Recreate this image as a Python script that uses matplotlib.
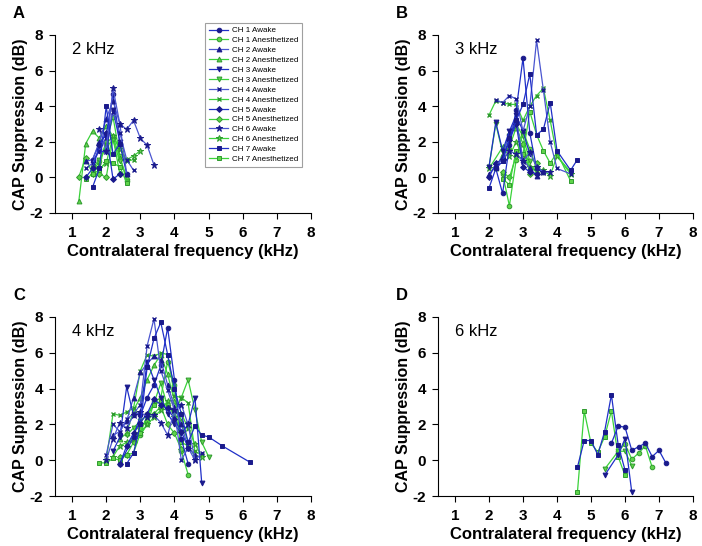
import matplotlib
matplotlib.use("Agg")
import matplotlib.pyplot as plt

plt.rcParams['font.family'] = ['Liberation Sans', 'DejaVu Sans']
plt.rcParams['axes.unicode_minus'] = False

channels = ["CH 1", "CH 2", "CH 3", "CH 4", "CH 5", "CH 6", "CH 7"]
conditions = ["Awake", "Anesthetized"]
panel_letters = ["A", "B", "C", "D"]
probe_labels = ["2 kHz", "3 kHz", "4 kHz", "6 kHz"]
x_ticks = [1, 2, 3, 4, 5, 6, 7, 8]
y_ticks = [-2, 0, 2, 4, 6, 8]

# ---- Panel A: 2 kHz probe ----
A_ch1_awake_f = [1.6, 1.8, 2.0, 2.2, 2.4, 2.6]
A_ch1_awake_v = [1.0, 1.9, 2.4, 4.7, 1.9, 0.2]
A_ch1_anes_f = [1.6, 1.8, 2.0, 2.2, 2.4, 2.6]
A_ch1_anes_v = [0.3, 0.9, 2.0, 3.4, 1.2, -0.2]
A_ch2_awake_f = [1.4, 1.6, 1.8, 2.0, 2.2, 2.4, 2.6]
A_ch2_awake_v = [0.9, 1.0, 2.0, 3.3, 4.3, 3.0, 0.2]
A_ch2_anes_f = [1.2, 1.4, 1.6, 1.8, 2.0, 2.2, 2.4, 2.6]
A_ch2_anes_v = [-1.3, 1.9, 2.6, 2.2, 2.9, 2.3, 1.1, 0.0]
A_ch3_awake_f = [1.6, 1.8, 2.0, 2.2, 2.4]
A_ch3_awake_v = [0.9, 1.5, 1.4, 3.8, 2.0]
A_ch3_anes_f = [1.6, 1.8, 2.0, 2.2, 2.4]
A_ch3_anes_v = [0.5, 1.0, 1.7, 2.1, 0.9]
A_ch4_awake_f = [1.4, 1.6, 1.8, 2.0, 2.2, 2.4, 2.6, 2.8]
A_ch4_awake_v = [0.5, 0.8, 1.5, 2.2, 3.7, 2.5, 1.0, 0.4]
A_ch4_anes_f = [1.6, 1.8, 2.0, 2.2, 2.4, 2.6, 2.8]
A_ch4_anes_v = [0.2, 0.7, 1.9, 2.3, 1.6, 0.9, 1.0]
A_ch5_awake_f = [1.4, 1.6, 1.8, 2.0, 2.2, 2.4]
A_ch5_awake_v = [0.0, 0.5, 1.8, 2.5, -0.1, 0.2]
A_ch5_anes_f = [1.2, 1.4, 1.6, 1.8, 2.0, 2.2, 2.4]
A_ch5_anes_v = [0.05, 1.1, 0.2, 0.2, 0.0, 2.2, 0.2]
A_ch6_awake_f = [1.8, 2.0, 2.2, 2.4, 2.6, 2.8, 3.0, 3.2, 3.4]
A_ch6_awake_v = [2.7, 1.5, 5.0, 3.0, 2.7, 3.2, 2.2, 1.8, 0.7]
A_ch6_anes_f = [1.8, 2.0, 2.2, 2.4, 2.6, 2.8, 3.0]
A_ch6_anes_v = [0.5, 0.8, 2.3, 1.6, 1.0, 1.2, 1.5]
A_ch7_awake_f = [1.6, 1.8, 2.0, 2.2, 2.4]
A_ch7_awake_v = [-0.55, 0.5, 4.0, 1.3, 1.9]
A_ch7_anes_f = [1.4, 1.6, 1.8, 2.0, 2.2, 2.4, 2.6]
A_ch7_anes_v = [-0.1, 0.2, 0.4, 0.9, 0.8, 0.6, -0.3]

# ---- Panel B: 3 kHz probe ----
B_ch1_awake_f = [2.2, 2.4, 2.6, 2.8, 3.0, 3.2, 3.4, 3.6]
B_ch1_awake_v = [0.5, -0.9, 1.8, 3.8, 6.7, 2.5, 0.5, 0.3]
B_ch1_anes_f = [2.4, 2.6, 2.8, 3.0, 3.2, 3.4, 3.6]
B_ch1_anes_v = [0.2, -1.6, 1.0, 2.6, 1.6, 0.5, 0.3]
B_ch2_awake_f = [2.0, 2.2, 2.4, 2.6, 2.8, 3.0, 3.2, 3.4]
B_ch2_awake_v = [0.2, 0.6, 1.2, 2.5, 3.3, 1.0, 0.5, 0.1]
B_ch2_anes_f = [2.2, 2.4, 2.6, 2.8, 3.0, 3.2, 3.4]
B_ch2_anes_v = [0.5, 1.3, 1.7, 2.8, 1.9, 0.6, 0.3]
B_ch3_awake_f = [2.0, 2.2, 2.4, 2.6, 2.8, 3.0, 3.2]
B_ch3_awake_v = [0.6, 3.1, 1.5, 2.6, 3.5, 2.6, 1.3]
B_ch3_anes_f = [2.0, 2.2, 2.4, 2.6, 2.8, 3.0, 3.2]
B_ch3_anes_v = [0.6, 3.0, 1.4, 2.3, 3.0, 2.3, 0.9]
B_ch4_awake_f = [2.2, 2.4, 2.6, 2.8, 3.0, 3.2, 3.4, 3.6, 3.8, 4.0, 4.4]
B_ch4_awake_v = [4.35, 4.2, 4.6, 4.4, 2.6, 4.0, 7.7, 4.9, 2.0, 0.5, 0.2]
B_ch4_anes_f = [2.0, 2.2, 2.4, 2.6, 2.8, 3.0, 3.2, 3.4, 3.6, 3.8, 4.0, 4.4]
B_ch4_anes_v = [3.5, 4.3, 4.2, 4.1, 4.1, 3.2, 4.0, 4.6, 5.0, 3.2, 1.2, 0.3]
B_ch5_awake_f = [2.0, 2.2, 2.4, 2.6, 2.8, 3.0, 3.2, 3.4]
B_ch5_awake_v = [0.0, 0.8, 1.0, 2.1, 3.0, 0.6, 0.3, 0.2]
B_ch5_anes_f = [2.4, 2.6, 2.8, 3.0, 3.2, 3.4]
B_ch5_anes_v = [0.3, 0.0, 1.2, 1.9, 0.2, 0.8]
B_ch6_awake_f = [2.2, 2.4, 2.6, 2.8, 3.0, 3.2, 3.4, 3.6, 3.8]
B_ch6_awake_v = [0.7, 1.0, 1.5, 1.3, 0.9, 1.4, 0.6, 0.3, 0.3]
B_ch6_anes_f = [2.0, 2.4, 2.6, 2.8, 3.0, 3.2, 3.4, 3.6, 3.8, 4.0, 4.4]
B_ch6_anes_v = [0.5, 1.7, 1.2, 2.0, 1.1, 0.6, 0.4, 0.4, 0.1, 1.2, 0.2]
B_ch7_awake_f = [2.0, 2.2, 2.4, 2.6, 2.8, 3.0, 3.2, 3.4, 3.6, 3.8, 4.0, 4.4, 4.6]
B_ch7_awake_v = [-0.6, 0.5, 0.9, 2.2, 3.2, 4.1, 5.8, 2.4, 2.7, 4.2, 1.5, 0.4, 1.0]
B_ch7_anes_f = [2.4, 2.6, 2.8, 3.0, 3.2, 3.4, 3.6, 3.8, 4.0, 4.4]
B_ch7_anes_v = [-0.1, -0.4, 1.5, 1.3, 3.7, 2.4, 1.5, 0.8, 1.4, -0.2]

# ---- Panel C: 4 kHz probe ----
C_ch1_awake_f = [2.4, 2.8, 3.0, 3.2, 3.4, 3.6, 3.8, 4.0, 4.2, 4.4]
C_ch1_awake_v = [-0.2, 1.3, 2.5, 3.5, 4.2, 5.3, 7.4, 4.5, 1.2, -0.2]
C_ch1_anes_f = [2.8, 3.0, 3.2, 3.4, 3.6, 3.8, 4.0, 4.2, 4.4]
C_ch1_anes_v = [1.1, 1.4, 2.0, 3.2, 3.5, 5.5, 4.2, 0.5, -0.8]
C_ch2_awake_f = [2.2, 2.4, 2.6, 2.8, 3.0, 3.2, 3.4, 3.6, 3.8, 4.0, 4.2, 4.4, 4.6]
C_ch2_awake_v = [1.4, 1.6, 2.2, 3.5, 4.9, 5.4, 5.8, 5.6, 4.2, 3.0, 2.0, 0.7, 0.3]
C_ch2_anes_f = [2.4, 2.6, 2.8, 3.0, 3.2, 3.4, 3.6, 3.8, 4.0, 4.2, 4.4]
C_ch2_anes_v = [1.2, 1.5, 2.8, 3.5, 4.5, 5.3, 5.9, 4.8, 3.3, 2.2, 1.0]
C_ch3_awake_f = [2.2, 2.4, 2.6, 2.8, 3.0, 3.2, 3.4, 3.6, 3.8, 4.0, 4.2, 4.4, 4.6, 4.8]
C_ch3_awake_v = [0.5, 1.3, 4.1, 2.5, 2.6, 5.5, 4.5, 3.5, 2.6, 2.0, 1.5, 2.0, 3.5, -1.3]
C_ch3_anes_f = [2.6, 2.8, 3.0, 3.2, 3.4, 3.6, 3.8, 4.0, 4.2, 4.4, 4.6, 4.8, 5.0]
C_ch3_anes_v = [1.4, 1.8, 2.2, 2.5, 3.2, 4.3, 3.0, 2.6, 3.5, 4.5, 2.8, 1.0, 0.2]
C_ch4_awake_f = [2.0, 2.2, 2.4, 2.6, 2.8, 3.0, 3.2, 3.4, 3.6, 3.8, 4.0, 4.2, 4.4, 4.6, 4.8]
C_ch4_awake_v = [0.3, 2.0, 1.6, 2.3, 2.6, 3.1, 6.4, 7.9, 5.0, 3.9, 2.8, 0.0, 0.7, 0.0, 0.4]
C_ch4_anes_f = [2.0, 2.2, 2.4, 2.6, 2.8, 3.0, 3.2, 3.4, 3.6, 3.8, 4.0, 4.2, 4.4, 4.6, 4.8]
C_ch4_anes_v = [0.0, 2.6, 2.5, 2.7, 2.9, 5.0, 5.9, 5.8, 6.0, 5.9, 3.6, 3.5, 3.2, 0.5, 0.3]
C_ch5_awake_f = [2.4, 2.6, 2.8, 3.0, 3.2, 3.4, 3.6, 3.8, 4.0, 4.2, 4.4]
C_ch5_awake_v = [-0.2, 0.8, 1.5, 2.1, 2.6, 3.4, 3.1, 2.9, 2.3, 1.6, 0.7]
C_ch5_anes_f = [2.4, 2.6, 2.8, 3.0, 3.2, 3.4, 3.6, 3.8, 4.0, 4.2]
C_ch5_anes_v = [0.2, 0.3, 1.0, 1.8, 2.2, 2.6, 3.0, 2.0, 1.5, 0.6]
C_ch6_awake_f = [2.0, 2.2, 2.4, 2.6, 2.8, 3.0, 3.2, 3.4, 3.6, 3.8, 4.0, 4.2, 4.4, 4.6]
C_ch6_awake_v = [0.0, 1.2, 2.1, 1.8, 2.5, 2.7, 2.4, 2.5, 2.1, 1.4, 2.8, 3.1, 2.0, 0.0]
C_ch6_anes_f = [2.2, 2.4, 2.6, 2.8, 3.0, 3.2, 3.4, 3.6, 3.8, 4.0, 4.2, 4.4, 4.6, 4.8]
C_ch6_anes_v = [0.2, 0.8, 1.0, 1.2, 1.5, 2.0, 2.4, 2.8, 3.3, 2.4, 2.6, 1.8, 0.9, 0.2]
C_ch7_awake_f = [2.6, 2.8, 3.0, 3.2, 3.4, 3.6, 3.8, 4.0, 4.2, 4.4, 4.6, 4.8, 5.0, 5.4, 6.2]
C_ch7_awake_v = [-0.2, 0.4, 2.0, 5.2, 6.8, 7.7, 5.9, 4.0, 2.6, 1.0, 1.9, 1.4, 1.3, 0.8, -0.1]
C_ch7_anes_f = [1.8, 2.0, 2.2, 2.4, 2.6, 2.8, 3.0, 3.2, 3.4, 3.6, 3.8, 4.0, 4.2, 4.4, 4.6]
C_ch7_anes_v = [-0.15, -0.15, 0.1, 0.0, 0.3, 0.4, 1.5, 2.5, 3.1, 3.3, 3.0, 2.8, 1.0, 0.8, 0.2]

# ---- Panel D: 6 kHz probe ----
D_ch1_awake_f = [5.6, 5.8, 6.0, 6.2, 6.4, 6.6, 6.8, 7.0, 7.2]
D_ch1_awake_v = [0.95, 1.9, 1.85, 0.55, 0.75, 0.95, 0.2, 0.55, -0.15]
D_ch1_anes_f = [5.8, 6.0, 6.2, 6.4, 6.6, 6.8]
D_ch1_anes_v = [0.5, 0.9, 0.05, 0.4, 0.8, -0.4]
D_ch3_awake_f = [5.4, 5.8, 6.0, 6.2]
D_ch3_awake_v = [-0.85, 0.3, 1.2, -1.8]
D_ch3_anes_f = [5.4, 5.8, 6.0, 6.2]
D_ch3_anes_v = [-0.5, 0.5, 0.5, -0.3]
D_ch7_awake_f = [4.6, 4.8, 5.0, 5.2, 5.4, 5.6, 5.8, 6.0]
D_ch7_awake_v = [-0.4, 1.1, 1.1, 0.3, 1.6, 3.65, 0.85, -0.55]
D_ch7_anes_f = [4.6, 4.8, 5.0, 5.2, 5.4, 5.6, 5.8, 6.0]
D_ch7_anes_v = [-1.8, 2.75, 0.95, 0.45, 1.3, 2.75, 0.2, -0.85]

panels = {
    "A": {
        ("CH 1", "Awake"): (A_ch1_awake_f, A_ch1_awake_v), ("CH 1", "Anesthetized"): (A_ch1_anes_f, A_ch1_anes_v),
        ("CH 2", "Awake"): (A_ch2_awake_f, A_ch2_awake_v), ("CH 2", "Anesthetized"): (A_ch2_anes_f, A_ch2_anes_v),
        ("CH 3", "Awake"): (A_ch3_awake_f, A_ch3_awake_v), ("CH 3", "Anesthetized"): (A_ch3_anes_f, A_ch3_anes_v),
        ("CH 4", "Awake"): (A_ch4_awake_f, A_ch4_awake_v), ("CH 4", "Anesthetized"): (A_ch4_anes_f, A_ch4_anes_v),
        ("CH 5", "Awake"): (A_ch5_awake_f, A_ch5_awake_v), ("CH 5", "Anesthetized"): (A_ch5_anes_f, A_ch5_anes_v),
        ("CH 6", "Awake"): (A_ch6_awake_f, A_ch6_awake_v), ("CH 6", "Anesthetized"): (A_ch6_anes_f, A_ch6_anes_v),
        ("CH 7", "Awake"): (A_ch7_awake_f, A_ch7_awake_v), ("CH 7", "Anesthetized"): (A_ch7_anes_f, A_ch7_anes_v),
    },
    "B": {
        ("CH 1", "Awake"): (B_ch1_awake_f, B_ch1_awake_v), ("CH 1", "Anesthetized"): (B_ch1_anes_f, B_ch1_anes_v),
        ("CH 2", "Awake"): (B_ch2_awake_f, B_ch2_awake_v), ("CH 2", "Anesthetized"): (B_ch2_anes_f, B_ch2_anes_v),
        ("CH 3", "Awake"): (B_ch3_awake_f, B_ch3_awake_v), ("CH 3", "Anesthetized"): (B_ch3_anes_f, B_ch3_anes_v),
        ("CH 4", "Awake"): (B_ch4_awake_f, B_ch4_awake_v), ("CH 4", "Anesthetized"): (B_ch4_anes_f, B_ch4_anes_v),
        ("CH 5", "Awake"): (B_ch5_awake_f, B_ch5_awake_v), ("CH 5", "Anesthetized"): (B_ch5_anes_f, B_ch5_anes_v),
        ("CH 6", "Awake"): (B_ch6_awake_f, B_ch6_awake_v), ("CH 6", "Anesthetized"): (B_ch6_anes_f, B_ch6_anes_v),
        ("CH 7", "Awake"): (B_ch7_awake_f, B_ch7_awake_v), ("CH 7", "Anesthetized"): (B_ch7_anes_f, B_ch7_anes_v),
    },
    "C": {
        ("CH 1", "Awake"): (C_ch1_awake_f, C_ch1_awake_v), ("CH 1", "Anesthetized"): (C_ch1_anes_f, C_ch1_anes_v),
        ("CH 2", "Awake"): (C_ch2_awake_f, C_ch2_awake_v), ("CH 2", "Anesthetized"): (C_ch2_anes_f, C_ch2_anes_v),
        ("CH 3", "Awake"): (C_ch3_awake_f, C_ch3_awake_v), ("CH 3", "Anesthetized"): (C_ch3_anes_f, C_ch3_anes_v),
        ("CH 4", "Awake"): (C_ch4_awake_f, C_ch4_awake_v), ("CH 4", "Anesthetized"): (C_ch4_anes_f, C_ch4_anes_v),
        ("CH 5", "Awake"): (C_ch5_awake_f, C_ch5_awake_v), ("CH 5", "Anesthetized"): (C_ch5_anes_f, C_ch5_anes_v),
        ("CH 6", "Awake"): (C_ch6_awake_f, C_ch6_awake_v), ("CH 6", "Anesthetized"): (C_ch6_anes_f, C_ch6_anes_v),
        ("CH 7", "Awake"): (C_ch7_awake_f, C_ch7_awake_v), ("CH 7", "Anesthetized"): (C_ch7_anes_f, C_ch7_anes_v),
    },
    "D": {
        ("CH 1", "Awake"): (D_ch1_awake_f, D_ch1_awake_v), ("CH 1", "Anesthetized"): (D_ch1_anes_f, D_ch1_anes_v),
        ("CH 3", "Awake"): (D_ch3_awake_f, D_ch3_awake_v), ("CH 3", "Anesthetized"): (D_ch3_anes_f, D_ch3_anes_v),
        ("CH 7", "Awake"): (D_ch7_awake_f, D_ch7_awake_v), ("CH 7", "Anesthetized"): (D_ch7_anes_f, D_ch7_anes_v),
    },
}

# styles
markers = {"CH 1": "o", "CH 2": "^", "CH 3": "v", "CH 4": "x", "CH 5": "D", "CH 6": "*", "CH 7": "s"}
msizes = {"CH 1": 3.3, "CH 2": 3.5, "CH 3": 3.5, "CH 4": 3.3, "CH 5": 3.0, "CH 6": 4.5, "CH 7": 3.3}
awake_line = {"CH 1": "#1f2fc8", "CH 2": "#4a55d0", "CH 3": "#1f2fc8", "CH 4": "#4a55d0",
              "CH 5": "#1f2fc8", "CH 6": "#4a55d0", "CH 7": "#1f2fc8"}
awake_mk = "#1a1a8c"
anes_line = "#3ad23a"
anes_face = "#5fd44a"
anes_edge = "#2f9a2f"

fig = plt.figure(figsize=(7.02, 5.46), dpi=100)
W, H = 702.0, 546.0
boxes = {
    "A": (55, 35, 311, 213),
    "B": (438, 35, 693, 213),
    "C": (55, 317, 311, 496),
    "D": (438, 317, 693, 496),
}

handles = []
for letter, probe in zip(panel_letters, probe_labels):
    l, t, r, b = boxes[letter]
    ax = fig.add_axes([l / W, 1 - b / H, (r - l) / W, (b - t) / H])
    data = panels[letter]
    for ch in channels:
        for cond in conditions:
            key = (ch, cond)
            if key not in data:
                continue
            f, v = data[key]
            if cond == "Awake":
                kw = dict(color=awake_line[ch], markerfacecolor=awake_mk, markeredgecolor=awake_mk)
            else:
                kw = dict(color=anes_line, markerfacecolor=anes_face, markeredgecolor=anes_edge)
            mk = markers[ch]
            ln, = ax.plot(f, v, marker=mk, ms=msizes[ch], lw=0.9, mew=0.7 if mk != "x" else 1.0,
                          label=f"{ch} {cond}", zorder=3 if cond == "Awake" else 2, **kw)
            if letter == "A":
                handles.append(ln)
    ax.set_xlim(0.5, 8.0)
    ax.set_ylim(-2, 8)
    ax.set_xticks(x_ticks)
    ax.set_yticks(y_ticks)
    ax.spines['top'].set_visible(False)
    ax.spines['right'].set_visible(False)
    for s in ('left', 'bottom'):
        ax.spines[s].set_linewidth(0.8)
    ax.tick_params(direction='out', length=4.5, width=0.8, labelsize=11, pad=4)
    ax.tick_params(axis='x', pad=5)
    for lab in ax.get_xticklabels() + ax.get_yticklabels():
        lab.set_fontweight('bold')
    ax.set_xlabel("Contralateral frequency (kHz)", fontsize=12, fontweight='bold', labelpad=3)
    ax.set_ylabel("CAP Suppression (dB)", fontsize=11.5, fontweight='bold', labelpad=1)
    ax.text(1.0, 7.2, probe, fontsize=12, va='center', ha='left')
    fig.text((l - 42) / W, 1 - (t - 22) / H, letter, fontsize=12, fontweight='bold',
             ha='left', va='center')

leg = fig.legend(handles=handles, loc='upper left', bbox_to_anchor=(205 / W, 1 - 22.7 / H),
                 fontsize=5.8, frameon=True, fancybox=False, edgecolor='#888888',
                 handlelength=2.4, handletextpad=0.4, labelspacing=0.28, borderpad=0.5,
                 borderaxespad=0)
leg.get_frame().set_linewidth(0.8)

fig.savefig("out.png", dpi=100)
